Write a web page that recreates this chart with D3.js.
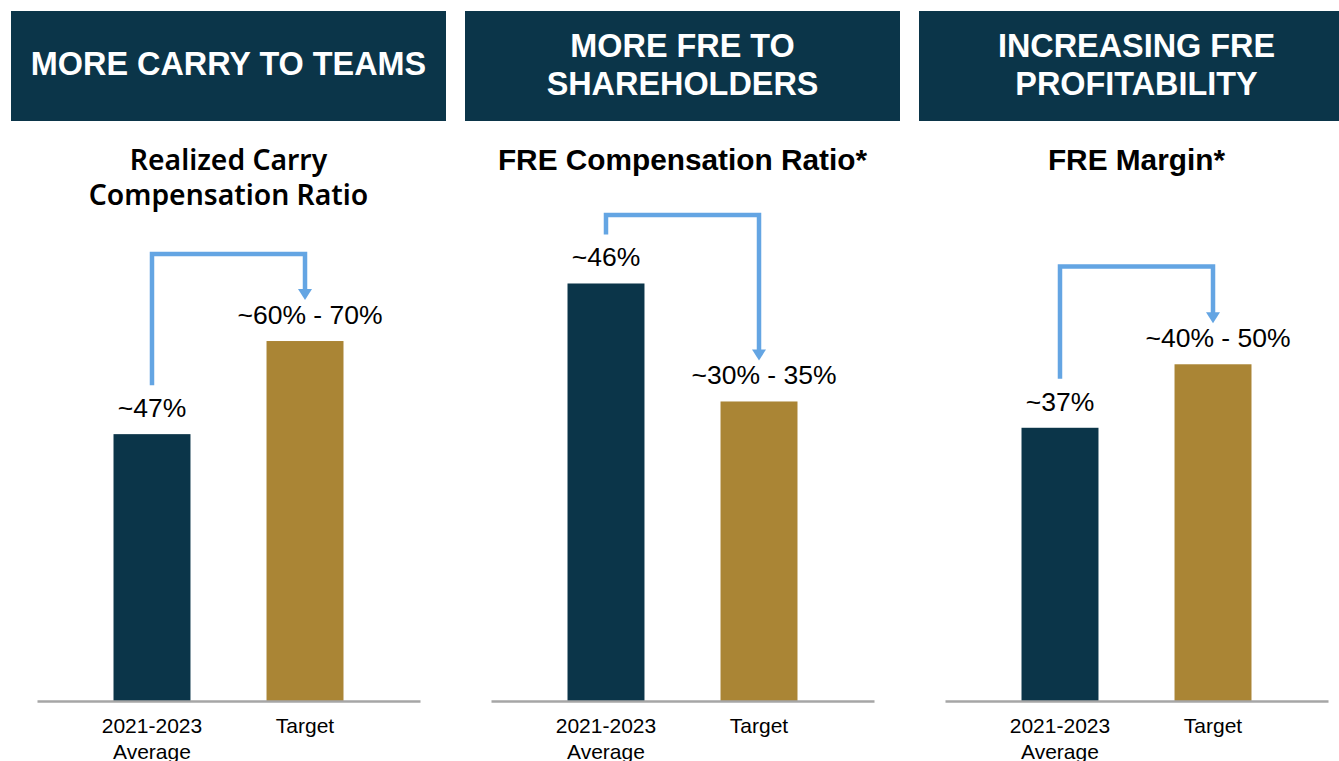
<!DOCTYPE html>
<html>
<head>
<meta charset="utf-8">
<script src="https://cdn.jsdelivr.net/npm/d3@7"></script>
<style>
  html, body { margin: 0; padding: 0; background: #ffffff; }
  svg { display: block; }
</style>
</head>
<body>
<svg id="chart" width="1339" height="761"></svg>
<script>
// ---- data ----
const headers = [
  ["MORE CARRY TO TEAMS"],
  ["MORE FRE TO", "SHAREHOLDERS"],
  ["INCREASING FRE", "PROFITABILITY"]
];
const subtitles = [
  ["Realized Carry", "Compensation Ratio"],
  ["FRE Compensation Ratio*"],
  ["FRE Margin*"]
];
const categories = ["2021-2023 Average", "Target"];
const categoryLines = [["2021-2023", "Average"], ["Target"]];
const carryValues = [47, 63.4];
const freCompValues = [46, 33];
const freMarginValues = [37, 45.6];
const carryLabels = ["~47%", "~60% - 70%"];
const freCompLabels = ["~46%", "~30% - 35%"];
const freMarginLabels = ["~37%", "~40% - 50%"];

// ---- layout / style ----
const W = 1339, H = 761;
const panelStep = 454;
const baseY = 701;
const plotTop = 190;
const domainMax = [90, 56.3, 69.2];      // per-panel value scale
const bracketTop = [254, 215, 266.5];     // y of arrow bracket
const navy = "#0b3549", gold = "#aa8535", arrowCol = "#64a5e3";
const sans = "'Liberation Sans', Arial, sans-serif";

const panels = [
  { values: carryValues, labels: carryLabels },
  { values: freCompValues, labels: freCompLabels },
  { values: freMarginValues, labels: freMarginLabels }
];

const svg = d3.select("#chart");
svg.append("rect").attr("width", W).attr("height", H).attr("fill", "#fff");

panels.forEach((p, i) => {
  const g = svg.append("g").attr("transform", `translate(${i * panelStep},0)`);

  // header box
  g.append("rect").attr("x", 11).attr("y", 11).attr("width", 435).attr("height", 110)
    .attr("fill", navy);
  const hl = headers[i];
  const hBase = hl.length === 1 ? [75] : [56.5, 95];
  hl.forEach((t, k) => {
    g.append("text").attr("x", 228.5).attr("y", hBase[k])
      .attr("text-anchor", "middle").attr("fill", "#fff")
      .attr("font-family", sans).attr("font-weight", "bold").attr("font-size", 32.4)
      .text(t);
  });

  // subtitle
  const sl = subtitles[i];
  sl.forEach((t, k) => {
    const s = g.append("text").attr("x", 228.5).attr("y", 170 + k * 35)
      .attr("text-anchor", "middle").attr("fill", "#000")
      .text(t);
    if (i === 0) {
      s.attr("font-family", "'Noto Sans', sans-serif").attr("font-weight", 600).attr("font-size", 28.3);
    } else {
      s.attr("font-family", sans).attr("font-weight", "bold").attr("font-size", 29.8);
    }
  });

  // scales
  const x = d3.scaleBand().domain(categories).range([37, 420])
    .paddingInner(0.497).paddingOuter(0.5);
  const y = d3.scaleLinear().domain([0, domainMax[i]]).range([baseY, plotTop]);

  // bars
  g.selectAll("rect.bar").data(p.values).join("rect").attr("class", "bar")
    .attr("x", (d, k) => x(categories[k]))
    .attr("y", d => y(d))
    .attr("width", x.bandwidth())
    .attr("height", d => baseY - y(d))
    .attr("fill", (d, k) => k === 0 ? navy : gold);

  // axis baseline
  const axis = d3.axisBottom(x).tickSize(0).tickFormat("");
  const ag = g.append("g").attr("transform", `translate(0,${baseY})`).call(axis);
  ag.select(".domain").attr("stroke", "#a6a6a6").attr("stroke-width", 2.5);

  // category labels
  categories.forEach((c, k) => {
    const cx = x(c) + x.bandwidth() / 2;
    const t = g.append("text").attr("text-anchor", "middle")
      .attr("font-family", sans).attr("font-size", 21).attr("fill", "#000");
    categoryLines[k].forEach((ln, j) => {
      t.append("tspan").attr("x", cx).attr("y", 733 + j * 26).text(ln);
    });
  });

  // value labels
  p.values.forEach((v, k) => {
    const cx = x(categories[k]) + x.bandwidth() / 2 + (k === 1 ? 5 : 0);
    g.append("text").attr("x", cx).attr("y", y(v) - 17)
      .attr("text-anchor", "middle").attr("font-family", sans)
      .attr("font-size", 26.5).attr("fill", "#000").text(p.labels[k]);
  });

  // arrow bracket
  const x0 = x(categories[0]) + x.bandwidth() / 2;
  const x1 = x(categories[1]) + x.bandwidth() / 2;
  const startY = y(p.values[0]) - 17 - 32;
  const tipY = y(p.values[1]) - 17 - 24;
  const headH = 11, headW = 14;
  g.append("path")
    .attr("d", `M${x0},${startY} V${bracketTop[i]} H${x1} V${tipY - headH + 1}`)
    .attr("fill", "none").attr("stroke", arrowCol).attr("stroke-width", 4.5)
    .attr("stroke-linejoin", "miter");
  g.append("path")
    .attr("d", `M${x1 - headW / 2},${tipY - headH} L${x1 + headW / 2},${tipY - headH} L${x1},${tipY} Z`)
    .attr("fill", arrowCol);
});
</script>
</body>
</html>
